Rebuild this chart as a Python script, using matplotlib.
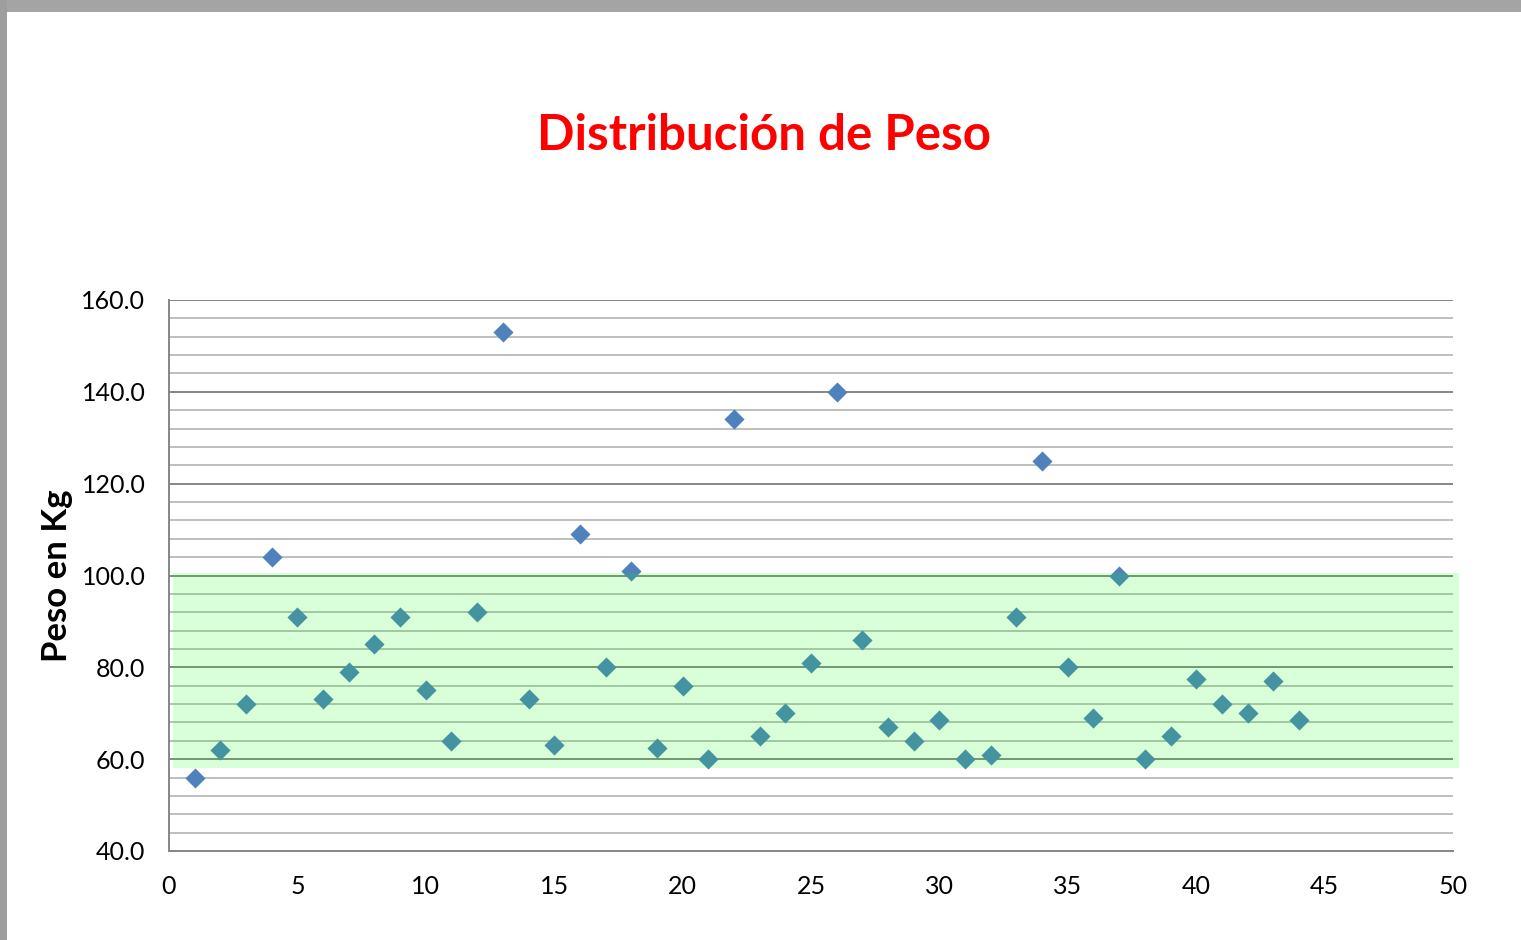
import matplotlib
matplotlib.use("Agg")
import matplotlib.pyplot as plt
from matplotlib.patches import Rectangle
import numpy as np

# Data
x_vals = list(range(1, 45))
peso = [56, 62, 72, 104, 91, 73, 79, 85, 91, 75,
        64, 92, 153, 73, 63, 109, 80, 101, 62.5, 76,
        60, 134, 65, 70, 81, 140, 86, 67, 64, 68.5,
        60, 61, 91, 125, 80, 69, 100, 60, 65, 77.5,
        72, 70, 77, 68.5]
band_low, band_high = 58.0, 100.5
x_ticks = [0, 5, 10, 15, 20, 25, 30, 35, 40, 45, 50]
y_ticks = [40, 60, 80, 100, 120, 140, 160]

title = "Distribución de Peso"
ylabel = "Peso en Kg"

plt.rcParams['font.family'] = ['Lato', 'DejaVu Sans']

fig = plt.figure(figsize=(15.21, 9.4), dpi=100)
fig.patch.set_facecolor("white")

# frame bands (top & left gray)
top_band = Rectangle((0, 1 - 12/940), 1, 12/940, transform=fig.transFigure,
                     facecolor="#a4a4a4", edgecolor="none", zorder=0)
left_band = Rectangle((0, 0), 7/1521, 1, transform=fig.transFigure,
                      facecolor="#9e9e9e", edgecolor="none", zorder=0)
fig.patches.extend([top_band, left_band])

ax = fig.add_axes([169/1521, (940-851)/940, 1284/1521, 551/940])
ax.set_xlim(0, 50)
ax.set_ylim(40, 160)

# gridlines
for v in np.arange(40, 161, 4):
    if v % 20 == 0:
        ax.axhline(v, color="#868686", lw=1.4, zorder=1)
    else:
        ax.axhline(v, color="#bfbfbf", lw=1.4, zorder=1)

ax.scatter(x_vals, peso, marker="D", s=105, color="#4F81BD", zorder=3, linewidths=0)

# green band overlay
band = Rectangle((0.15, band_low), 50.1, band_high - band_low,
                 facecolor=(0, 1, 0, 0.15), edgecolor="none", zorder=4, clip_on=False)
ax.add_patch(band)

ax.set_xticks(x_ticks)
ax.set_yticks(y_ticks)
ax.set_yticklabels([f"{v:.1f}" for v in y_ticks])
ax.tick_params(axis="both", length=0, labelsize=18, colors="black")
ax.tick_params(axis="x", pad=17)
ax.tick_params(axis="y", pad=17)

for s in ["top", "right"]:
    ax.spines[s].set_visible(False)
ax.spines["left"].set_color("#868686")
ax.spines["bottom"].set_color("#868686")
ax.spines["left"].set_linewidth(1.4)
ax.spines["bottom"].set_linewidth(1.4)
ax.spines["left"].set_zorder(5)

ax.set_ylabel(ylabel, fontsize=25, fontweight="bold", labelpad=6)

fig.text(764/1521, 1 - 136/940, title, color="#ff0000", fontsize=35.5,
         fontweight="bold", ha="center", va="center")

fig.savefig("out.png", dpi=100)
